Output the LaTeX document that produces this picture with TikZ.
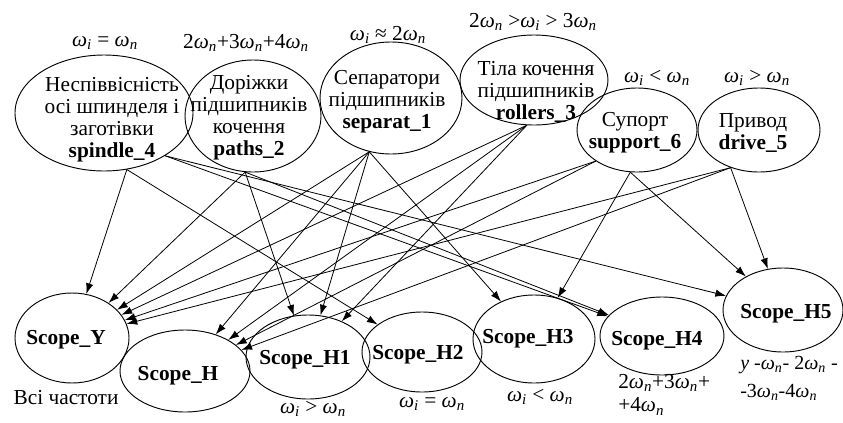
\documentclass[tikz,border=0pt]{standalone}
\usepackage{amsmath}
\usepackage{fontspec}
\setmainfont{Liberation Serif}
\usetikzlibrary{shapes.geometric,arrows.meta}
\newcommand{\omg}[1]{\textit{ω}\textsubscript{\textit{#1}}}

\begin{document}
\begin{tikzpicture}[x=0.75pt,y=-0.75pt,
	el/.style={ellipse,draw,line width=0.7pt,inner sep=0pt},
	sz/.style 2 args={minimum width=#1*0.75pt,minimum height=#2*0.75pt},
	txt/.style={align=center,inner sep=0pt,font=\fontsize{16}{16.5}\selectfont},
	lab/.style={inner sep=0pt,font=\fontsize{16}{16.5}\selectfont},
	arr/.style={-{Latex[length=8pt,width=5.5pt]},line width=0.6pt}]
	\useasboundingbox (0,0) rectangle (843,422);
	% sources
	\node[el,sz={178}{116}] (spindle) at (104,113) {};
	\node[el,sz={136}{112}] (paths) at (253,116) {};
	\node[el,sz={142}{112}] (separat) at (391,98) {};
	\node[el,sz={148}{90}] (rollers) at (534,80) {};
	\node[el,sz={120}{84}] (support) at (637,130) {};
	\node[el,sz={122}{84}] (drive) at (759,130) {};
	\node[txt] (spindleT) at (112,120) {Неспіввісність\\осі шпинделя і\\заготівки\\\textbf{spindle\_4}};
	\node[txt] (pathsT) at (249,118) {Доріжки\\підшипників\\кочення\\\textbf{paths\_2}};
	\node[txt] (separatT) at (387,102) {Сепаратори\\підшипників\\\textbf{separat\_1}};
	\node[txt] (rollersT) at (536,92) {Тіла кочення\\підшипників\\\textbf{rollers\_3}};
	\node[txt] (supportT) at (635,133) {Супорт\\\textbf{support\_6}};
	\node[txt] (driveT) at (753,133) {Привод\\\textbf{drive\_5}};
	% scopes
	\node[el,sz={114}{90}] (scY) at (72,338) {};
	\node[el,sz={130}{82}] (scH) at (185,371) {};
	\node[el,sz={124}{84}] (scH1) at (308,357) {};
	\node[el,sz={120}{80}] (scH2) at (422,352) {};
	\node[el,sz={122}{88}] (scH3) at (534,339) {};
	\node[el,sz={124}{78}] (scH4) at (662,336) {};
	\node[el,sz={120}{84}] (scH5) at (783,310) {};
	\node[lab] (scYT) at (66,340) {\textbf{Scope\_Y}};
	\node[lab] (scHT) at (178,376) {\textbf{Scope\_H}};
	\node[lab] (scH1T) at (305,360) {\textbf{Scope\_H1}};
	\node[lab] (scH2T) at (418,355) {\textbf{Scope\_H2}};
	\node[lab] (scH3T) at (528,339) {\textbf{Scope\_H3}};
	\node[lab] (scH4T) at (657,341) {\textbf{Scope\_H4}};
	\node[lab] (scH5T) at (786,314) {\textbf{Scope\_H5}};
	% frequencies
	\node[lab] (f4) at (105,43) {\omg{i} = \omg{n}};
	\node[lab] (f2) at (246,43) {2\omg{n}+3\omg{n}+4\omg{n}};
	\node[lab] (f1) at (388,35) {\omg{i} ≈ 2\omg{n}};
	\node[lab] (f3) at (533,22) {2\omg{n} >\omg{i} > 3\omg{n}};
	\node[lab] (f6) at (657,78) {\omg{i} < \omg{n}};
	\node[lab] (f5) at (757,78) {\omg{i} > \omg{n}};
	\node[lab] (fY) at (66,398) {Всі частоти};
	\node[lab] (fH1) at (313,409) {\omg{i} > \omg{n}};
	\node[lab] (fH2) at (432,404) {\omg{i} = \omg{n}};
	\node[lab] (fH3) at (540,397) {\omg{i} < \omg{n}};
	\node[lab,anchor=north west,align=left] (fH4) at (618,374) {2\omg{n}+3\omg{n}+\\[1pt]+4\omg{n}};
	\node[lab,anchor=north west,align=left,font=\fontsize{15}{16}\selectfont] (fH5) at (740,356) {\textit{y} -\omg{n}- 2\omg{n} -\\[5pt]-3\omg{n}-4\omg{n}};
	% links
	\foreach \a/\b in {spindle.-68/scY,spindle.-68/scH2,spindle.-35/scH4,spindle.-35/scH5,
		paths.-98/scY,paths.-98/scH1,paths.-98/scH4,
		separat.-112/scY,separat.-112/scH,separat.-112/scH1,separat.-112/scH3,
		rollers.-99/scY,rollers.-99/scH,rollers.-99/scH1,
		support.-143/scY,support.-143/scH,support.-99/scH3,support.-99/scH5,
		drive.-127/scY,drive.-127/scH,drive.-127/scH5}
	\draw[arr] (\a) -- (\b);
\end{tikzpicture}
\end{document}
